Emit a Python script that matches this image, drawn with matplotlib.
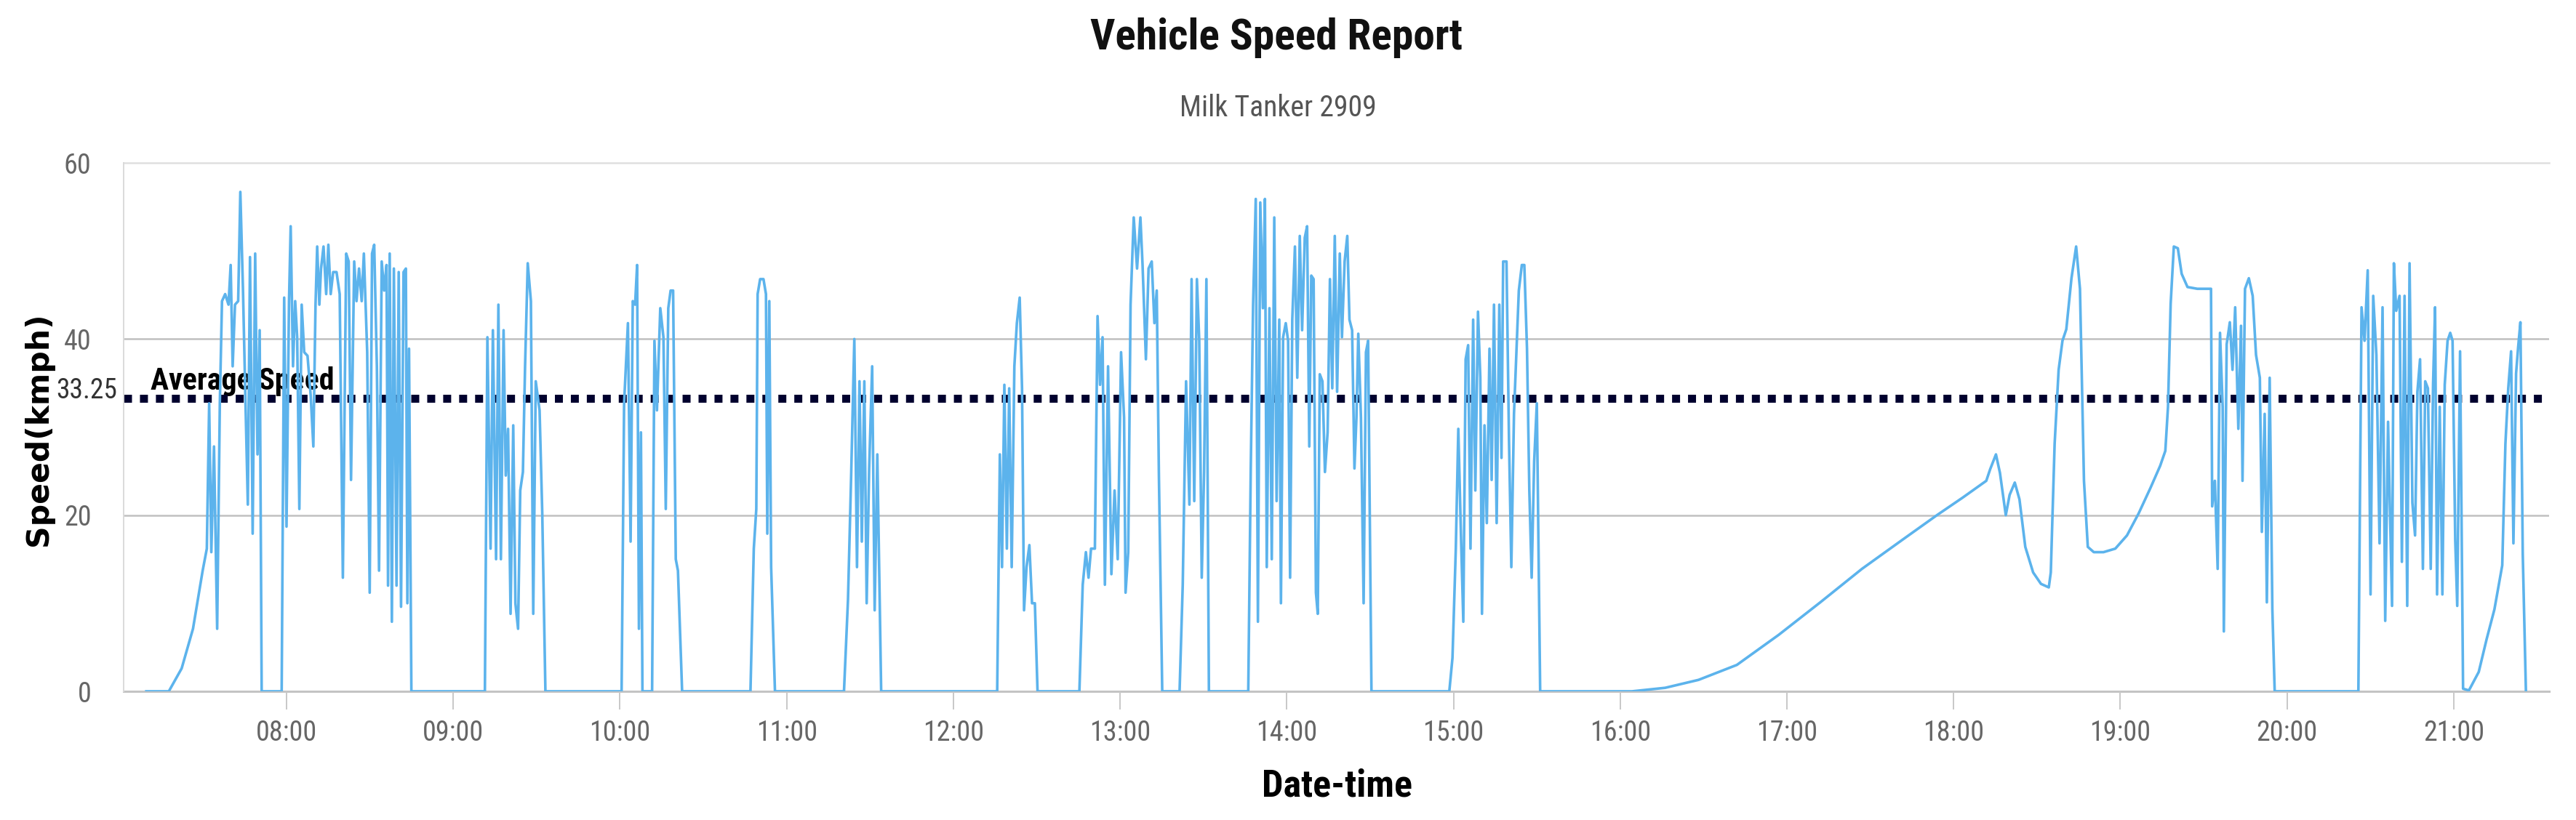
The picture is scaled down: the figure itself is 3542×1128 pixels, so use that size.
import os
import matplotlib
matplotlib.use("Agg")
import matplotlib.pyplot as plt
import matplotlib.transforms as mtransforms
from matplotlib import font_manager
from matplotlib.font_manager import FontProperties

# speed samples, time in decimal hours of the day
morning_t = [7.159, 7.294, 7.371, 7.439, 7.497, 7.522, 7.536, 7.549, 7.565, 7.584,
             7.600, 7.613, 7.632, 7.652, 7.665, 7.677, 7.691, 7.710, 7.723, 7.739,
             7.754, 7.768, 7.781, 7.797, 7.812, 7.826, 7.839, 7.851,
             7.971, 7.986, 8.000, 8.015, 8.025, 8.039, 8.052, 8.064, 8.077, 8.091,
             8.106, 8.126, 8.145, 8.161, 8.174, 8.184, 8.197, 8.207, 8.222, 8.238,
             8.251, 8.265, 8.280, 8.300, 8.319, 8.338, 8.358, 8.373, 8.387, 8.406,
             8.420, 8.435, 8.451, 8.464, 8.484, 8.499, 8.513, 8.526, 8.542, 8.555,
             8.571, 8.586, 8.600, 8.609, 8.619, 8.632, 8.644, 8.660, 8.673, 8.687,
             8.702, 8.716, 8.725, 8.735, 8.749,
             9.190, 9.205, 9.224, 9.238, 9.257, 9.271, 9.286, 9.302, 9.315, 9.329,
             9.344, 9.360, 9.373, 9.389, 9.402, 9.418, 9.431, 9.447, 9.466, 9.480,
             9.495, 9.518, 9.534, 9.553]
morning_v = [0, 0, 2.6, 7.1, 13.7, 16.2, 32.7, 15.8, 27.8, 7.1,
             32.7, 44.3, 45.1, 43.9, 48.4, 36.9, 43.9, 44.3, 56.7, 45.5,
             32.7, 21.2, 49.3, 17.9, 49.7, 26.9, 41.0, 0,
             0, 44.7, 18.7, 44.3, 52.8, 36.9, 44.3, 40.2, 20.7, 43.9,
             38.5, 38.1, 33.6, 27.8, 43.9, 50.5, 43.9, 48.0, 50.5, 45.1,
             50.7, 45.1, 47.6, 47.6, 45.1, 12.9, 49.7, 48.8, 24.0, 48.8,
             44.3, 48.0, 44.3, 49.7, 38.5, 11.2, 49.7, 50.7, 36.9, 13.7,
             48.8, 45.5, 48.4, 12.0, 49.7, 7.9, 48.0, 12.0, 47.6, 9.6,
             47.6, 48.0, 10.0, 38.9, 0,
             0, 40.2, 16.2, 41.0, 15.0, 43.9, 15.0, 41.0, 24.5, 29.8,
             8.8, 30.2, 10.0, 7.1, 22.8, 24.9, 36.9, 48.6, 44.3, 8.8,
             35.2, 31.9, 20.3, 0]

midday_t = [10.010, 10.025, 10.048, 10.064, 10.077, 10.091, 10.103, 10.114, 10.126, 10.135,
            10.193, 10.207, 10.222, 10.242, 10.261, 10.275, 10.290, 10.304, 10.319, 10.335,
            10.348, 10.373,
            10.783, 10.803, 10.818, 10.826, 10.841, 10.861, 10.876, 10.884, 10.896, 10.907,
            10.930,
            11.344, 11.368, 11.387, 11.406, 11.422, 11.437, 11.451, 11.466, 11.480, 11.495,
            11.513, 11.528, 11.544, 11.567,
            12.263, 12.279, 12.292, 12.306, 12.321, 12.335, 12.350, 12.366, 12.381, 12.398,
            12.412, 12.424, 12.439, 12.456, 12.472, 12.489, 12.505]
midday_v = [0, 32.7, 41.8, 17.0, 44.3, 43.9, 48.4, 7.1, 29.4, 0,
            0, 39.8, 31.9, 43.5, 40.2, 20.7, 43.5, 45.5, 45.5, 15.0,
            13.7, 0,
            0, 16.2, 20.7, 45.1, 46.8, 46.8, 45.1, 17.9, 44.3, 14.1,
            0,
            0, 10.4, 24.5, 40.0, 14.1, 35.2, 17.0, 35.2, 10.0, 25.3,
            36.9, 9.2, 26.9, 0,
            0, 26.9, 14.1, 34.8, 16.2, 34.4, 14.1, 36.9, 41.8, 44.7,
            34.4, 9.2, 14.1, 16.6, 10.0, 10.0, 0]

afternoon_t = [12.756, 12.776, 12.795, 12.811, 12.826, 12.849, 12.865, 12.880, 12.895, 12.909,
               12.928, 12.948, 12.967, 12.986, 13.006, 13.024, 13.033, 13.049, 13.063, 13.082,
               13.102, 13.122, 13.135, 13.155, 13.171, 13.190, 13.206, 13.220, 13.233, 13.253,
               13.357, 13.376, 13.396, 13.416, 13.429, 13.445, 13.461, 13.475, 13.490, 13.504,
               13.518, 13.533,
               13.769, 13.784, 13.798, 13.814, 13.827, 13.841, 13.857, 13.869, 13.880, 13.896,
               13.910, 13.925, 13.939, 13.955, 13.965, 13.978, 13.994, 14.008, 14.020, 14.033,
               14.049, 14.063, 14.078, 14.092, 14.108, 14.122, 14.135, 14.147, 14.161, 14.175,
               14.186, 14.198, 14.214, 14.229, 14.245, 14.259, 14.273, 14.288, 14.302, 14.318,
               14.331, 14.347, 14.363, 14.376, 14.392, 14.406, 14.418, 14.429, 14.445, 14.461,
               14.475, 14.488, 14.508,
               14.975, 14.994, 15.014, 15.029, 15.043, 15.059, 15.073, 15.088, 15.102, 15.118,
               15.131, 15.147, 15.161, 15.171, 15.186, 15.200, 15.216, 15.229, 15.243, 15.259,
               15.275, 15.288, 15.298, 15.318, 15.333, 15.347, 15.363, 15.376, 15.392, 15.410,
               15.425, 15.441, 15.455, 15.469, 15.484, 15.500, 15.520]
afternoon_v = [0, 12.1, 15.8, 12.9, 16.2, 16.2, 42.6, 34.8, 40.2, 12.1,
               36.9, 13.3, 22.8, 15.0, 38.5, 31.1, 11.2, 15.8, 43.9, 53.8,
               48.0, 53.8, 48.4, 37.7, 48.0, 48.8, 41.8, 45.5, 24.5, 0,
               0, 12.1, 35.2, 21.2, 46.8, 21.6, 46.8, 39.8, 12.9, 24.9,
               46.8, 0,
               0, 25.3, 43.9, 55.9, 7.9, 55.5, 43.5, 55.9, 14.1, 43.5,
               15.0, 53.8, 21.6, 42.2, 10.0, 40.2, 41.8, 39.8, 12.9, 42.2,
               50.5, 35.6, 51.7, 41.0, 51.5, 52.8, 27.8, 47.2, 46.8, 11.2,
               8.8, 36.0, 35.2, 24.9, 29.4, 46.8, 34.4, 51.7, 34.0, 49.7,
               40.2, 48.8, 51.7, 42.2, 41.0, 25.3, 31.1, 40.6, 31.1, 10.0,
               38.5, 39.8, 0,
               0, 3.8, 16.2, 29.8, 19.1, 7.9, 37.7, 39.3, 16.2, 42.2,
               22.8, 43.1, 35.6, 8.8, 30.2, 19.1, 38.9, 24.0, 43.9, 19.1,
               43.9, 26.5, 48.8, 48.8, 28.6, 14.1, 31.5, 37.7, 45.5, 48.4,
               48.4, 38.9, 22.8, 12.9, 26.1, 32.7, 0]

evening_t = [16.07, 16.27, 16.47, 16.70, 16.95, 17.20, 17.45, 17.70, 17.90, 18.055,
             18.196, 18.219, 18.254, 18.278, 18.313, 18.336, 18.367, 18.395, 18.430, 18.477,
             18.524, 18.571, 18.583, 18.606, 18.630, 18.653, 18.676, 18.707, 18.735, 18.758,
             18.782, 18.805, 18.841, 18.899, 18.970, 19.040, 19.110, 19.181, 19.239, 19.270,
             19.286, 19.302, 19.321, 19.345, 19.368, 19.403, 19.462, 19.544, 19.551, 19.567,
             19.584, 19.598, 19.614, 19.621, 19.638, 19.657, 19.673, 19.689, 19.708, 19.724,
             19.733, 19.748, 19.771, 19.794, 19.814, 19.837, 19.849, 19.866, 19.879, 19.896,
             19.912, 19.926,
             20.428, 20.447, 20.465, 20.484, 20.501, 20.517, 20.536, 20.555, 20.573, 20.589,
             20.606, 20.630, 20.641, 20.655, 20.675, 20.689, 20.705, 20.721, 20.735, 20.752,
             20.768, 20.782, 20.798, 20.815, 20.829, 20.845, 20.862, 20.876, 20.888, 20.900,
             20.916, 20.932, 20.946, 20.963, 20.979, 20.993, 21.009, 21.021, 21.038, 21.056,
             21.091, 21.150, 21.197, 21.244, 21.291, 21.310, 21.327, 21.344, 21.358, 21.374,
             21.386, 21.400, 21.414, 21.433]
evening_v = [0, 0.4, 1.3, 3.0, 6.4, 10.1, 13.9, 17.3, 20.0, 22.0,
             23.9, 25.2, 26.9, 24.8, 20.0, 22.3, 23.7, 21.8, 16.4, 13.5,
             12.2, 11.8, 13.5, 28.1, 36.5, 39.8, 41.1, 46.9, 50.5, 45.7,
             23.9, 16.4, 15.8, 15.8, 16.2, 17.7, 20.2, 23.1, 25.6, 27.3,
             32.3, 44.0, 50.5, 50.3, 47.4, 45.9, 45.7, 45.7, 21.0, 23.9,
             13.9, 40.7, 32.3, 6.8, 39.4, 41.9, 36.5, 43.6, 29.8, 41.5,
             23.9, 45.7, 46.9, 44.9, 38.2, 35.6, 18.1, 31.5, 10.1, 35.6,
             9.3, 0,
             0, 43.6, 39.8, 47.8, 11.0, 44.9, 38.2, 16.8, 43.6, 8.0,
             30.6, 9.7, 48.6, 43.2, 44.9, 14.7, 44.9, 9.7, 48.6, 21.4,
             17.7, 34.0, 37.7, 13.9, 35.2, 34.4, 13.9, 34.8, 43.6, 11.0,
             32.3, 11.0, 34.8, 39.8, 40.7, 39.8, 17.2, 9.7, 38.6, 0.3,
             0.1, 2.2, 5.9, 9.3, 14.3, 28.1, 34.4, 38.6, 16.8, 36.1,
             39.0, 41.9, 15.6, 0]

avg_speed = 33.25
hour_ticks = list(range(8, 22))
y_ticks = [0, 20, 40, 60]

hours = morning_t + midday_t + afternoon_t + evening_t
speed = morning_v + midday_v + afternoon_v + evening_v


# look for a narrow / condensed face, the original text is tall and thin
def find_face(bold):
    prefs = ['liberationsansnarrow', 'notosans-condensed', 'robotocondensed',
             'opensans_condensed', 'opensanscondensed', 'dejavusanscondensed']
    found = {}
    for f in font_manager.fontManager.ttflist:
        base = os.path.basename(f.fname).lower()
        if 'italic' in base or 'semi' in base or 'extra' in base:
            continue
        if any(w in base for w in ('light', 'thin', 'medium', 'black')):
            continue
        if ('bold' in base) != bold:
            continue
        for p in prefs:
            if base.startswith(p):
                found.setdefault(p, f.fname)
    for p in prefs:
        if p in found:
            return FontProperties(fname=found[p])
    return FontProperties(family='Liberation Sans', weight='bold' if bold else 'normal')


fp_reg = find_face(False)
fp_bold = find_face(True)

W, H = 3542, 1128
fig = plt.figure(figsize=(W / 100, H / 100), dpi=100)
x0, x1, ytop, ybot = 170, 3505, 224, 951
ax = fig.add_axes([x0 / W, 1 - ybot / H, (x1 - x0) / W, (ybot - ytop) / H])

# grid
for g in (20, 40):
    ax.axhline(g, color='#c0c0c0', lw=1.8, zorder=1)
ax.axhline(60, color='#e0e0e0', lw=1.8, zorder=1, clip_on=False)

# average speed plot line
ax.axhline(avg_speed, color='#00002e', lw=7.9, ls=(0, (1, 1)),
           dash_capstyle='butt', zorder=2)
ax.plot(hours, speed, color='#5cb3ec', lw=2.6, zorder=3, solid_joinstyle='round')

ax.set_xlim(7.023, 21.572)
ax.set_ylim(0, 60)

for s in ('top', 'right'):
    ax.spines[s].set_visible(False)
ax.spines['left'].set_color('#dadada')
ax.spines['left'].set_linewidth(1.4)
ax.spines['bottom'].set_color('#c4c4c4')
ax.spines['bottom'].set_linewidth(2.2)
ax.spines['bottom'].set_zorder(0.5)

ax.set_xticks(hour_ticks)
ax.set_xticklabels(['%02d:00' % h for h in hour_ticks])
ax.set_yticks(y_ticks)
ax.set_yticklabels([str(v) for v in y_ticks])
ax.tick_params(axis='x', length=18, width=1.4, color='#c8c8c8', pad=10,
               labelcolor='#666666')
ax.tick_params(axis='y', length=0, pad=32, labelcolor='#666666')
for lab in ax.get_xticklabels() + ax.get_yticklabels():
    lab.set_fontproperties(fp_reg)

trans = mtransforms.blended_transform_factory(ax.transAxes, ax.transData)
t_avg = ax.text(-9 / (x1 - x0), avg_speed + 0.85, '%.2f' % avg_speed, transform=trans,
                ha='right', va='center', color='#333333', fontproperties=fp_reg,
                clip_on=False)
t_lbl = ax.text(37 / (x1 - x0), avg_speed + 1.0, 'Average Speed', transform=trans,
                ha='left', va='baseline', color='black', fontproperties=fp_bold,
                zorder=1.5)

t_title = fig.text(1755 / W, 1 - 52 / H, 'Vehicle Speed Report', ha='center',
                   va='center', color='#111111', fontproperties=fp_bold)
t_sub = fig.text(1757 / W, 1 - 148 / H, 'Milk Tanker 2909', ha='center', va='center',
                 color='#555555', fontproperties=fp_reg)
t_ylab = fig.text(53 / W, 1 - 590 / H, 'Speed(kmph)', rotation=90, ha='center',
                  va='center', fontsize=30, fontweight='bold', family='DejaVu Sans',
                  color='black')
t_xlab = fig.text(1838 / W, 1 - 1081 / H, 'Date-time', ha='center', va='center',
                  color='black', fontproperties=fp_bold)

# size each text so that its width matches the width measured on the reference
renderer = fig.canvas.get_renderer()


def fit(txt, target, vertical=False):
    txt.set_fontsize(30)
    bb = txt.get_window_extent(renderer)
    size = bb.height if vertical else bb.width
    txt.set_fontsize(30 * target / size)
    return txt.get_fontsize()


fit(t_title, 513)
fit(t_sub, 271)
fit(t_xlab, 207)
fit(t_lbl, 253)
fit(t_avg, 84)
fit(t_ylab, 321, vertical=True)
probe = fig.text(0, 0, '12:00', fontproperties=fp_reg)
tick_size = fit(probe, 84)
probe.remove()
ax.tick_params(labelsize=tick_size)

fig.savefig('out.png', dpi=100, facecolor='white')
